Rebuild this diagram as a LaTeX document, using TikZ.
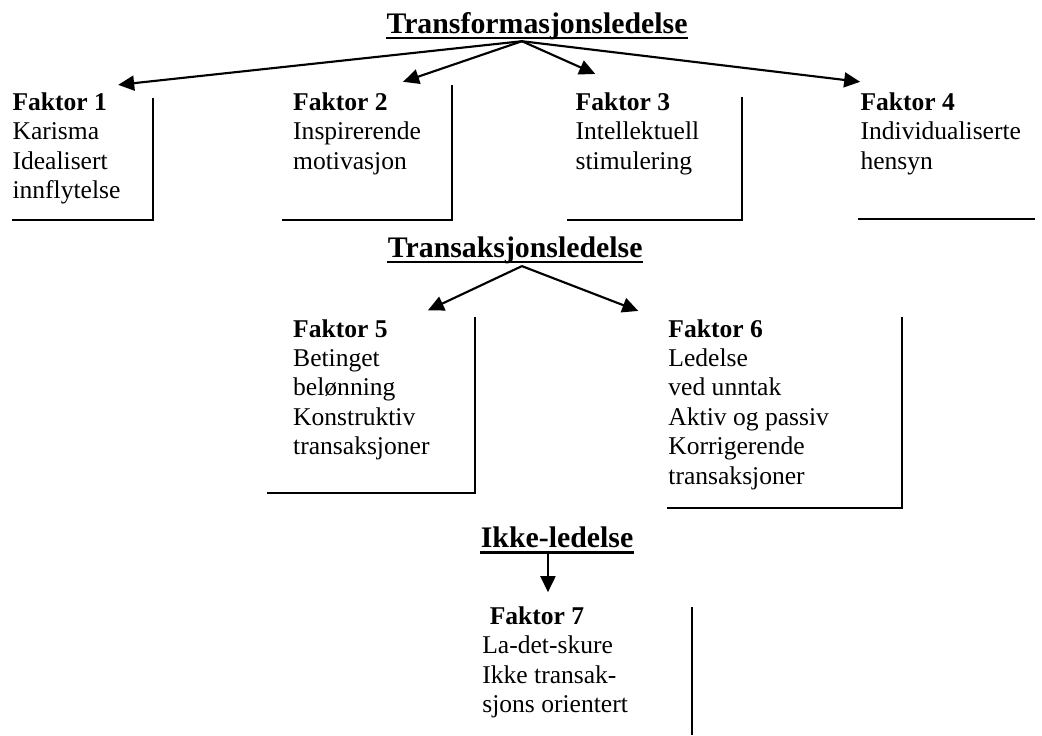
\documentclass[tikz,border=0pt]{standalone}
\usepackage{fontspec}
\setmainfont{Liberation Serif}
\usetikzlibrary{positioning,arrows.meta}

\begin{document}
\begin{tikzpicture}[head/.style={font=\fontsize{14}{16}\selectfont\bfseries,
            inner sep=0pt,anchor=base},
        fact/.style={font=\fontsize{12}{13.8}\selectfont,align=left,
            inner sep=0pt,anchor=north west},
        arr/.style={line width=1pt,-{Triangle[length=7.5pt,width=7pt]}},
        uline/.style={line width=1pt},
        brk/.style={line width=.8pt}
    ]
\useasboundingbox (0,0) rectangle (17.19,-12.13);
\node[head] (trf) at (8.86,-.545) {Transformasjonsledelse};
\node[head] (trs) at (8.50,-4.24) {Transaksjonsledelse};
\node[head] (ikke) at (9.19,-9.03) {Ikke-ledelse};
\draw[uline] ([yshift=-2.4pt]trf.base west) -- ([yshift=-2.4pt]trf.base east);
\draw[uline] ([yshift=-2.4pt]trs.base west) -- ([yshift=-2.4pt]trs.base east);
\draw[uline] ([yshift=-2.4pt]ikke.base west) -- ([yshift=-2.4pt]ikke.base east);

\node[fact] (f1) at (.20,-1.52) {\textbf{Faktor 1}\\Karisma\\Idealisert\\innflytelse};
\node[fact] (f2) at (4.83,-1.52) {\textbf{Faktor 2}\\Inspirerende\\motivasjon};
\node[fact] (f3) at (9.49,-1.52) {\textbf{Faktor 3}\\Intellektuell\\stimulering};
\node[fact] (f4) at (14.19,-1.52) {\textbf{Faktor 4}\\Individualiserte\\hensyn};
\node[fact] (f5) at (4.83,-5.26) {\textbf{Faktor 5}\\Betinget\\belønning\\Konstruktiv\\transaksjoner};
\node[fact] (f6) at (11.02,-5.26) {\textbf{Faktor 6}\\Ledelse\\ved unntak\\Aktiv og passiv\\Korrigerende\\transaksjoner};
\node[fact] (f7) at (7.95,-10.00) {\hspace*{3.5pt}\textbf{Faktor 7}\\La-det-skure\\Ikke transak-\\sjons orientert};

\coordinate (trfo) at (8.61,-.68);
\coordinate (trso) at (8.61,-4.39);
\coordinate (ikkeo) at (9.04,-9.12);
\coordinate (f1t) at (1.95,-1.40);
\coordinate (f2t) at (6.65,-1.35);
\coordinate (f3t) at (9.82,-1.22);
\coordinate (f4t) at (14.19,-1.35);
\coordinate (f5t) at (7.06,-5.12);
\coordinate (f6t) at (10.53,-5.13);
\coordinate (f7t) at (9.04,-9.77);
\draw[arr] (trfo) -- (f1t);
\draw[arr] (trfo) -- (f2t);
\draw[arr] (trfo) -- (f3t);
\draw[arr] (trfo) -- (f4t);
\draw[arr] (trso) -- (f5t);
\draw[arr] (trso) -- (f6t);
\draw[arr] (ikkeo) -- (f7t);

\draw[brk] (2.52,-1.62) |- (.20,-3.63);
\draw[brk] (7.46,-1.40) |- (4.65,-3.63);
\draw[brk] (12.24,-1.60) |- (9.36,-3.63);
\draw[brk] (14.16,-3.61) -- (17.08,-3.61);
\draw[brk] (7.84,-5.23) |- (4.41,-8.13);
\draw[brk] (14.88,-5.23) |- (11.01,-8.38);
\draw[brk] (11.42,-10.02) -- (11.42,-12.13);
\end{tikzpicture}
\end{document}
